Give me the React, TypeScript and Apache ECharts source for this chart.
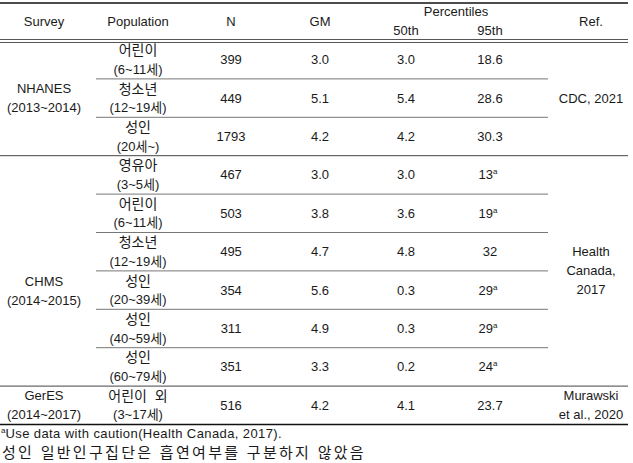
import React, { useEffect, useRef } from "react";
import * as echarts from "echarts";

// ---- data ----
const surveys = ["NHANES\n(2013~2014)", "CHMS\n(2014~2015)", "GerES\n(2014~2017)"];
const groupSizes = [3, 6, 1];
const refs = ["CDC, 2021", "Health\nCanada,\n2017", "Murawski\net al., 2020"];
const popNames = ["어린이", "청소년", "성인", "영유아", "어린이", "청소년", "성인", "성인", "성인", "어린이  외"];
const popAges = ["(6~11세)", "(12~19세)", "(20세~)", "(3~5세)", "(6~11세)", "(12~19세)", "(20~39세)", "(40~59세)", "(60~79세)", "(3~17세)"];
const nValues = [399, 449, 1793, 467, 503, 495, 354, 311, 351, 516];
const gmValues = [3.0, 5.1, 4.2, 3.0, 3.8, 4.7, 5.6, 4.9, 3.3, 4.2];
const p50Values = [3.0, 5.4, 4.2, 3.0, 3.6, 4.8, 0.3, 0.3, 0.2, 4.1];
const p95Values = [18.6, 28.6, 30.3, 13, 19, 32, 29, 29, 24, 23.7];
const p95Caution = [false, false, false, true, true, false, true, true, true, false];
const headers = ["Survey", "Population", "N", "GM", "Ref."];
const subHeaders = ["50th", "95th"];
const groupHeader = "Percentiles";
const footnotes = ["Use data with caution(Health Canada, 2017).", "성인 일반인구집단은 흡연여부를 구분하지 않았음"];

// ---- layout ----
const W = 633;
const H = 463;
const FONT = "'Liberation Sans', 'Noto Sans CJK KR', sans-serif";
const TXT = "#1a1a1a";
const colX = { survey: 44, pop: 138, n: 231, gm: 320, p50: 406, p95: 490, ref: 591 };
const tableLeft = 0;
const tableRight = 628;
const innerLeft = 96;
const innerRight = 548;
const headTop = 3;
const doubleLineY = [39.5, 42.5];
const rowsTop = 40.5;
const rowH = 38.4;
const surveyOffsets = [0, 20, 0];

export default function App() {
  const ref = useRef<HTMLDivElement>(null);
  useEffect(() => {
    if (!ref.current) return;
    const chart = echarts.init(ref.current, null, { renderer: "svg" });
    const g: any[] = [];
    const txt = (x: number, y: number, text: string, extra: any = {}) =>
      g.push({
        type: "text",
        x,
        y,
        style: {
          text,
          fill: TXT,
          fontFamily: FONT,
          fontSize: 13,
          align: "center",
          verticalAlign: "middle",
          lineHeight: 19,
          ...extra,
        },
      });
    const line = (x1: number, y1: number, x2: number, y2: number, stroke: string, lw: number) =>
      g.push({ type: "line", shape: { x1, y1, x2, y2 }, style: { stroke, lineWidth: lw } });

    // header
    const hy = 21;
    txt(colX.survey, hy, headers[0]);
    txt(colX.pop, hy, headers[1]);
    txt(colX.n, hy, headers[2]);
    txt(colX.gm, hy, headers[3]);
    txt(colX.ref, hy, headers[4]);
    txt((colX.p50 + colX.p95) / 2 + 8, 11, groupHeader);
    txt(colX.p50, 30, subHeaders[0]);
    txt(colX.p95, 30, subHeaders[1]);

    // lines
    line(tableLeft, headTop, tableRight, headTop, "#111", 1.6);
    doubleLineY.forEach((y) => line(tableLeft, y, tableRight, y, "#555", 1));

    const rowCenter = (i: number) => rowsTop + rowH * (i + 0.5);
    let start = 0;
    groupSizes.forEach((size, gi) => {
      const top = rowsTop + rowH * start;
      const bottom = top + rowH * size;
      const center = (top + bottom) / 2;
      txt(colX.survey, center + surveyOffsets[gi], surveys[gi]);
      txt(colX.ref, center, refs[gi]);
      for (let k = 0; k < size - 1; k++) {
        const y = top + rowH * (k + 1);
        line(innerLeft, y, innerRight, y, "#777", 1);
      }
      if (gi < groupSizes.length - 1) line(tableLeft, bottom, tableRight, bottom, "#444", 1);
      else line(tableLeft, bottom, tableRight, bottom, "#111", 1.6);
      start += size;
    });

    popNames.forEach((p, i) => {
      const y = rowCenter(i);
      g.push({
        type: "text",
        x: colX.pop,
        y,
        style: {
          text: `{k|${p}}\n{l|${popAges[i]}}`,
          align: "center",
          verticalAlign: "middle",
          rich: {
            k: { fontFamily: FONT, fontSize: 14, fill: TXT, lineHeight: 19 },
            l: { fontFamily: FONT, fontSize: 13, fill: TXT, lineHeight: 19 },
          },
        },
      });
      txt(colX.n, y, String(nValues[i]));
      txt(colX.gm, y, gmValues[i].toFixed(1));
      txt(colX.p50, y, p50Values[i].toFixed(1));
      if (p95Caution[i]) {
        g.push({
          type: "text",
          x: colX.p95 - 2,
          y,
          style: {
            text: `{v|${p95Values[i]}}{s|a}`,
            align: "center",
            verticalAlign: "middle",
            rich: {
              v: { fontFamily: FONT, fontSize: 13, fill: TXT, lineHeight: 14 },
              s: { fontFamily: FONT, fontSize: 8, fill: TXT, lineHeight: 14, verticalAlign: "top" },
            },
          },
        });
      } else {
        txt(colX.p95, y, String(p95Values[i]));
      }
    });

    // footnotes
    g.push({
      type: "text",
      x: 1,
      y: 433,
      style: {
        text: `{s|a}{v|${footnotes[0]}}`,
        align: "left",
        verticalAlign: "middle",
        rich: {
          v: { fontFamily: FONT, fontSize: 13, fill: TXT, lineHeight: 14 },
          s: { fontFamily: FONT, fontSize: 8, fill: TXT, lineHeight: 14, verticalAlign: "top" },
        },
      },
    });
    txt(2, 452, footnotes[1], { align: "left", fontSize: 15 });

    chart.setOption({ animation: false, graphic: { elements: g } });

    // widen footnote letter spacing as in the reference
    ref.current.querySelectorAll("text").forEach((t) => {
      const c = t.textContent || "";
      if (c === footnotes[1]) (t as any).style.letterSpacing = "2.3px";
      else if (c === footnotes[0]) (t as any).style.letterSpacing = "0.4px";
    });
    return () => chart.dispose();
  }, []);
  return (
    <div
      ref={ref}
      style={{ position: "fixed", left: 0, top: 0, width: W, height: H, background: "#fff" }}
    />
  );
}
